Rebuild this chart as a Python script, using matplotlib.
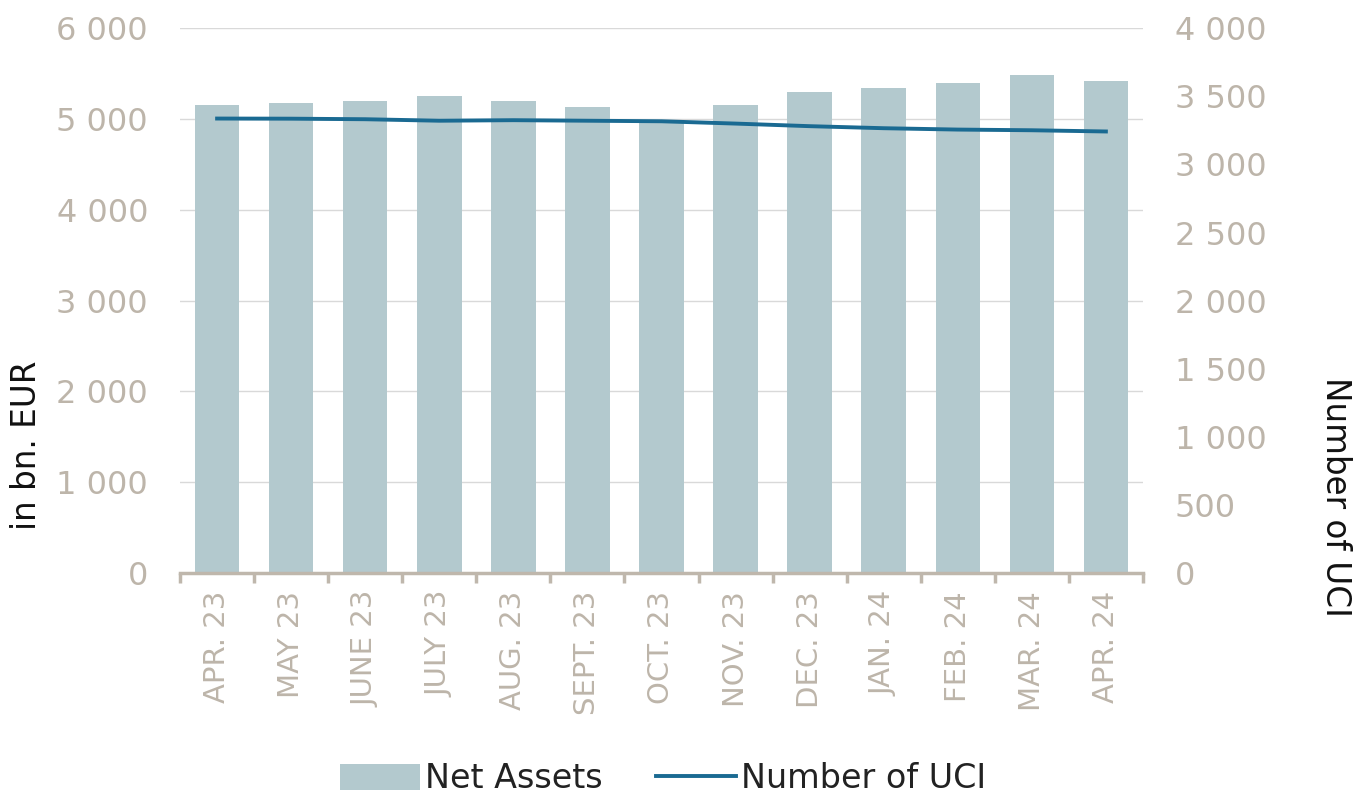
import numpy as np
import matplotlib.pyplot as plt
from matplotlib.ticker import FuncFormatter

# months and values
months = ["APR. 23", "MAY 23", "JUNE 23", "JULY 23", "AUG. 23", "SEPT. 23", "OCT. 23",
          "NOV. 23", "DEC. 23", "JAN. 24", "FEB. 24", "MAR. 24", "APR. 24"]
net_assets = [5157, 5172, 5195, 5257, 5195, 5135, 4990, 5154, 5297, 5338, 5400, 5481, 5422]
number_uci = [3337, 3336, 3332, 3321, 3325, 3321, 3317, 3300, 3281, 3266, 3256, 3251, 3242]

bar_color = "#b3c9ce"
line_color = "#1a6a92"
tick_color = "#bdb5aa"
axis_color = "#bfb7ac"

def space_thousands(v, pos):
    return f"{v:,.0f}".replace(",", " ")

fig = plt.figure(figsize=(13.59, 8.08), dpi=100)
ax = fig.add_axes([0.1325, 0.291, 0.7085, 0.674])
ax2 = ax.twinx()

x = np.arange(len(months))
ax.bar(x, net_assets, width=0.6, color=bar_color, label="Net Assets", zorder=2)
ax2.plot(x, number_uci, color=line_color, lw=2.8, label="Number of UCI", zorder=3)

ax.set_xlim(-0.5, len(months) - 0.5)
ax.set_ylim(0, 6000)
ax2.set_ylim(0, 4000)
ax.set_yticks(np.arange(0, 6001, 1000))
ax2.set_yticks(np.arange(0, 4001, 500))
ax.yaxis.set_major_formatter(FuncFormatter(space_thousands))
ax2.yaxis.set_major_formatter(FuncFormatter(space_thousands))

ax.grid(axis="y", color="#d9d9d9", lw=1, zorder=0)
ax.set_axisbelow(True)

for a in (ax, ax2):
    for s in ("top", "left", "right"):
        a.spines[s].set_visible(False)
ax2.spines["bottom"].set_visible(False)
ax.spines["bottom"].set_color(axis_color)
ax.spines["bottom"].set_linewidth(2.5)

ax.set_xticks(x)
ax.set_xticklabels(months, rotation=90, fontsize=21, color=tick_color)
ax.set_xticks(np.arange(-0.5, len(months), 1), minor=True)
ax.tick_params(axis="x", which="major", length=0, pad=13)
ax.tick_params(axis="x", which="minor", length=7, width=2.5, color=axis_color)
ax.tick_params(axis="y", length=0, labelsize=23, labelcolor=tick_color, pad=23)
ax2.tick_params(axis="y", length=0, labelsize=23, labelcolor=tick_color, pad=23)

ax.set_ylabel("in bn. EUR", fontsize=23.5, color="#111111")
ax.yaxis.set_label_coords(-0.142, 0.235)
ax2.set_ylabel("Number of UCI", fontsize=23.5, color="#111111", rotation=-90, va="center")
ax2.yaxis.set_label_coords(1.2, 0.14)

h1, l1 = ax.get_legend_handles_labels()
h2, l2 = ax2.get_legend_handles_labels()
fig.legend(h1 + h2, l1 + l2, loc="center", bbox_to_anchor=(0.488, 0.036), ncol=2,
           frameon=False, fontsize=24, handlelength=2.4, handleheight=0.8,
           columnspacing=1.6, handletextpad=0.15, labelcolor="#222222")

fig.savefig("out.png", dpi=100)
